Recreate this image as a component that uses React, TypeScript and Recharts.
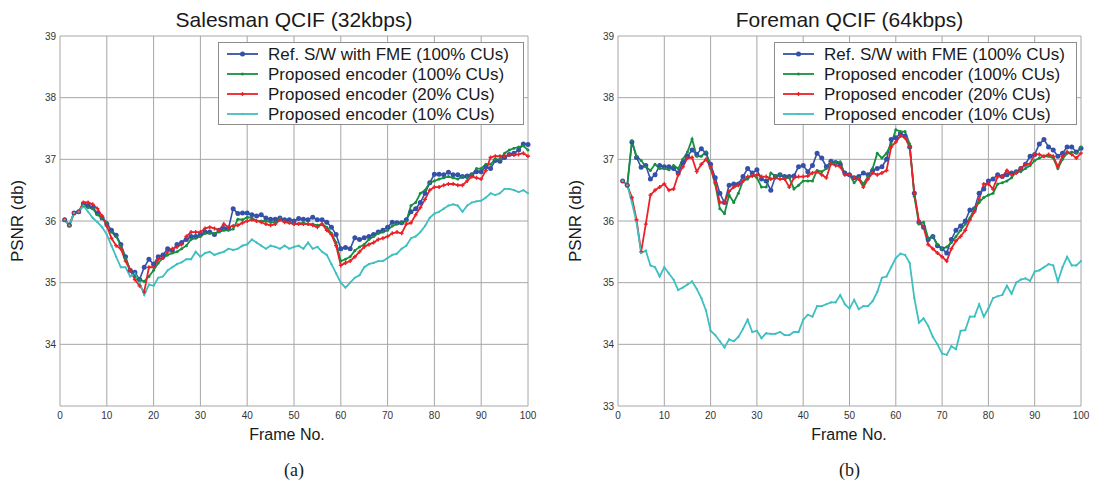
import React from 'react';
import { LineChart, Line, XAxis, YAxis, CartesianGrid } from 'recharts';

// frame numbers (x categories)
const frames = [
  1, 2, 3, 4, 5, 6, 7, 8, 9, 10, 11, 12, 13, 14, 15, 16, 17, 18, 19, 20,
  21, 22, 23, 24, 25, 26, 27, 28, 29, 30, 31, 32, 33, 34, 35, 36, 37, 38, 39, 40,
  41, 42, 43, 44, 45, 46, 47, 48, 49, 50, 51, 52, 53, 54, 55, 56, 57, 58, 59, 60,
  61, 62, 63, 64, 65, 66, 67, 68, 69, 70, 71, 72, 73, 74, 75, 76, 77, 78, 79, 80,
  81, 82, 83, 84, 85, 86, 87, 88, 89, 90, 91, 92, 93, 94, 95, 96, 97, 98, 99, 100,
];

const xTicks = [0, 10, 20, 30, 40, 50, 60, 70, 80, 90, 100];
const yTicks = [33, 34, 35, 36, 37, 38, 39];

const seriesNames = [
  'Ref. S/W with FME (100% CUs)',
  'Proposed encoder (100% CUs)',
  'Proposed encoder (20% CUs)',
  'Proposed encoder (10% CUs)',
];
const seriesColors = ['#3450a8', '#16903e', '#ea2128', '#3ebfc1'];

// Salesman QCIF (32kbps)
const salesmanRef = [
  36.02, 35.93, 36.13, 36.15, 36.28, 36.25, 36.22, 36.12, 36.05, 35.95,
  35.85, 35.77, 35.62, 35.42, 35.2, 35.17, 35.05, 35.25, 35.38, 35.3,
  35.42, 35.45, 35.55, 35.52, 35.62, 35.65, 35.7, 35.75, 35.75, 35.78,
  35.82, 35.82, 35.78, 35.85, 35.88, 35.88, 36.2, 36.12, 36.13, 36.13,
  36.1, 36.08, 36.1, 36.05, 36.03, 36.03, 36.05, 36.02, 36.02, 36.0,
  36.04, 36.03, 36.02, 36.06, 36.02, 36.02, 35.98, 35.9, 35.78, 35.55,
  35.57, 35.55, 35.73, 35.7, 35.73, 35.75, 35.78, 35.82, 35.85, 35.9,
  35.98, 35.97, 35.97, 36.02, 36.15, 36.2, 36.3, 36.45, 36.62, 36.76,
  36.76, 36.75, 36.79, 36.75, 36.75, 36.72, 36.73, 36.75, 36.8, 36.8,
  36.88, 36.85, 36.98, 36.97, 37.03, 37.08, 37.1, 37.15, 37.25, 37.24,
];
const salesmanP100 = [
  36.02, 35.93, 36.13, 36.15, 36.25, 36.22, 36.2, 36.1, 36.05, 35.98,
  35.82, 35.75, 35.6, 35.4, 35.2, 35.1, 35.05, 35.02, 35.1, 35.2,
  35.32, 35.4, 35.45, 35.48, 35.5, 35.55, 35.6, 35.7, 35.72, 35.75,
  35.8, 35.8, 35.8, 35.82, 35.85, 35.85, 35.87, 36.03, 36.02, 36.06,
  36.05, 36.0, 36.0, 36.0, 35.98, 35.98, 36.05, 36.0, 35.98, 35.95,
  35.96, 35.97, 35.95, 35.95, 35.93, 35.95, 35.9, 35.8, 35.65, 35.35,
  35.38, 35.42, 35.52, 35.58, 35.62, 35.7, 35.75, 35.8, 35.82, 35.85,
  35.92, 35.95, 35.97, 36.0, 36.25, 36.3, 36.45, 36.5, 36.62, 36.65,
  36.68, 36.7, 36.72, 36.7, 36.68, 36.72, 36.7, 36.75, 36.85, 36.85,
  36.92, 36.92, 37.0, 37.0, 37.1, 37.15, 37.18, 37.2, 37.22, 37.15,
];
const salesmanP20 = [
  36.02, 35.93, 36.13, 36.15, 36.3, 36.3, 36.27, 36.2, 36.08, 35.92,
  35.72, 35.6, 35.55, 35.35, 35.2, 35.05, 34.95, 34.85, 35.25, 35.25,
  35.38, 35.4, 35.5, 35.55, 35.58, 35.62, 35.75, 35.82, 35.82, 35.82,
  35.88, 35.9, 35.88, 35.85, 35.95, 35.9, 35.92, 35.93, 35.97, 36.0,
  36.02, 36.0, 35.98, 35.95, 35.93, 35.95, 36.02, 35.98, 35.97, 35.95,
  35.95, 35.95, 35.95, 35.93, 35.9, 35.95, 35.85, 35.78, 35.6, 35.28,
  35.32, 35.35, 35.42, 35.5, 35.58, 35.62, 35.65, 35.7, 35.72, 35.75,
  35.8, 35.82, 35.8, 35.95, 35.97, 36.1, 36.22, 36.35, 36.5, 36.55,
  36.55, 36.58, 36.6, 36.6, 36.58, 36.58, 36.65, 36.72, 36.7, 36.68,
  36.82, 37.03, 37.05, 37.05, 37.05, 37.07, 37.07, 37.08, 37.1, 37.05,
];
const salesmanP10 = [
  36.02, 35.93, 36.13, 36.15, 36.25, 36.15, 36.05, 35.98, 35.9, 35.78,
  35.6, 35.42, 35.25, 35.25, 35.1, 35.15, 35.0, 34.8, 34.97, 34.95,
  35.08, 35.1, 35.2, 35.25, 35.3, 35.33, 35.38, 35.38, 35.5, 35.42,
  35.48, 35.5, 35.45, 35.48, 35.5, 35.55, 35.53, 35.55, 35.6, 35.62,
  35.7, 35.65, 35.6, 35.55, 35.6, 35.58, 35.55, 35.6, 35.55, 35.58,
  35.6, 35.55, 35.65, 35.55, 35.58, 35.5, 35.45, 35.3, 35.15, 35.0,
  34.92, 35.0, 35.08, 35.12, 35.25, 35.3, 35.32, 35.35, 35.35, 35.4,
  35.45, 35.47, 35.55, 35.6, 35.72, 35.75, 35.82, 35.92, 36.05, 36.12,
  36.15, 36.2, 36.25, 36.27, 36.25, 36.15, 36.25, 36.3, 36.32, 36.33,
  36.38, 36.45, 36.42, 36.45, 36.52, 36.52, 36.5, 36.47, 36.5, 36.45,
];

// Foreman QCIF (64kbps)
const foremanRef = [
  36.65, 36.58, 37.28, 37.03, 36.87, 36.9, 36.68, 36.75, 36.9, 36.88,
  36.88, 36.85, 36.78, 36.95, 37.05, 37.15, 37.08, 37.17, 37.1, 36.92,
  36.7, 36.45, 36.3, 36.58, 36.6, 36.6, 36.72, 36.85, 36.78, 36.83,
  36.68, 36.65, 36.5, 36.72, 36.75, 36.72, 36.72, 36.73, 36.88, 36.9,
  36.8, 36.9, 37.1, 37.02, 36.88, 36.97, 36.95, 36.92, 36.78, 36.75,
  36.7, 36.72, 36.78, 36.75, 36.82, 36.85, 36.88, 37.0, 37.32, 37.35,
  37.42, 37.38, 37.2, 36.45, 35.98, 35.9, 35.7, 35.75, 35.6, 35.55,
  35.48, 35.7, 35.85, 35.92, 36.0, 36.18, 36.2, 36.45, 36.52, 36.65,
  36.68, 36.75, 36.72, 36.75, 36.78, 36.8, 36.85, 36.92, 37.05, 37.08,
  37.25, 37.32, 37.2, 37.15, 37.05, 37.1, 37.2, 37.2, 37.12, 37.18,
];
const foremanP100 = [
  36.65, 36.58, 37.3, 37.05, 36.98, 36.88, 36.82, 36.92, 36.85, 36.85,
  36.83, 36.9, 36.85, 37.0, 37.12, 37.33, 37.05, 37.05, 37.12, 36.85,
  36.6, 36.2, 36.12, 36.42, 36.3, 36.45, 36.65, 36.68, 36.75, 36.7,
  36.55, 36.55, 36.78, 36.73, 36.75, 36.7, 36.7, 36.52, 36.58, 36.65,
  36.65, 36.65, 36.82, 36.8, 36.85, 36.95, 36.95, 36.96, 36.75, 36.75,
  36.62, 36.7, 36.6, 36.72, 36.85, 37.1, 37.02, 37.1, 37.25, 37.48,
  37.45, 37.45, 37.25, 36.4, 35.95, 35.98, 35.72, 35.75, 35.62, 35.55,
  35.58, 35.65, 35.75, 35.85, 35.95, 36.05, 36.2, 36.3, 36.38, 36.42,
  36.45, 36.6, 36.62, 36.65, 36.7, 36.8, 36.8, 36.85, 36.9, 36.98,
  37.02, 37.05, 37.05, 37.02, 36.85, 37.0, 37.1, 37.12, 37.1, 37.2,
];
const foremanP20 = [
  36.65, 36.58, 36.38, 36.02, 35.5, 35.95, 36.42, 36.5, 36.55, 36.6,
  36.5, 36.52, 36.75, 36.88, 37.02, 37.03, 36.8, 36.92, 37.0, 36.88,
  36.62, 36.3, 36.3, 36.48, 36.55, 36.58, 36.65, 36.72, 36.73, 36.75,
  36.72, 36.72, 36.68, 36.7, 36.68, 36.68, 36.55, 36.7, 36.72, 36.72,
  36.73, 36.78, 36.8, 36.75, 36.7, 36.93, 36.9, 36.88, 36.75, 36.75,
  36.7, 36.68, 36.55, 36.68, 36.78, 36.75, 36.78, 36.82, 37.2, 37.28,
  37.38, 37.35, 37.2, 36.45, 36.0, 35.9, 35.62, 35.55, 35.48, 35.42,
  35.35, 35.55, 35.68, 35.75, 35.85, 36.02, 36.15, 36.35, 36.6, 36.6,
  36.52, 36.72, 36.72, 36.82, 36.75, 36.78, 36.85, 36.92, 36.93, 37.08,
  37.08, 37.05, 37.08, 37.05, 36.88, 37.05, 37.12, 37.08, 37.02, 37.1,
];
const foremanP10 = [
  36.65, 36.58, 36.3, 35.98, 35.48, 35.52, 35.28, 35.25, 35.1, 35.25,
  35.15, 35.05, 34.88, 34.92, 34.97, 35.02, 34.9, 34.75, 34.55, 34.22,
  34.15, 34.05, 33.95, 34.08, 34.05, 34.12, 34.25, 34.4, 34.2, 34.22,
  34.1, 34.18, 34.17, 34.17, 34.2, 34.15, 34.15, 34.2, 34.2, 34.4,
  34.48, 34.45, 34.62, 34.62, 34.65, 34.68, 34.68, 34.8, 34.65, 34.58,
  34.72, 34.57, 34.62, 34.62, 34.7, 34.85, 35.08, 35.1, 35.25, 35.4,
  35.47, 35.45, 35.32, 34.75, 34.35, 34.42, 34.3, 34.12, 34.0, 33.85,
  33.83, 33.97, 33.92, 34.22, 34.23, 34.45, 34.45, 34.65, 34.45, 34.58,
  34.75, 34.78, 34.8, 34.95, 34.82, 35.0, 35.05, 35.07, 35.03, 35.18,
  35.2, 35.25, 35.3, 35.28, 35.02, 35.25, 35.42, 35.28, 35.28, 35.35,
];

const buildRows = (a: number[], b: number[], c: number[], d: number[]) =>
  frames.map((f, i) => ({ frame: f, s0: a[i], s1: b[i], s2: c[i], s3: d[i] }));

const salesmanRows = buildRows(salesmanRef, salesmanP100, salesmanP20, salesmanP10);
const foremanRows = buildRows(foremanRef, foremanP100, foremanP20, foremanP10);

const SANS = '"Liberation Sans", Arial, Helvetica, sans-serif';
const SERIF = '"Liberation Serif", "Times New Roman", serif';

const PlusDot = (props: any) => {
  const { cx, cy, index } = props;
  if (cx == null || cy == null) return <g key={`p-${index}`} />;
  return (
    <path
      key={`p-${index}`}
      d={`M${cx - 2},${cy}H${cx + 2}M${cx},${cy - 2}V${cy + 2}`}
      stroke={seriesColors[2]}
      strokeWidth={1.4}
    />
  );
};

const dotFor = (i: number): any => {
  if (i === 0) return { r: 2.5, fill: seriesColors[0], stroke: 'none' };
  if (i === 1) return { r: 1.5, fill: seriesColors[1], stroke: 'none' };
  if (i === 2) return PlusDot;
  return { r: 1.1, fill: seriesColors[3], stroke: 'none' };
};

const LegendMarker = ({ i }: { i: number }) => {
  const c = seriesColors[i];
  return (
    <svg width={31} height={8} style={{ display: 'block' }}>
      <line x1={0} y1={4} x2={31} y2={4} stroke={c} strokeWidth={1.8} />
      {i === 0 && <circle cx={15.5} cy={4} r={2.5} fill={c} />}
      {i === 1 && <circle cx={15.5} cy={4} r={1.5} fill={c} />}
      {i === 2 && <path d="M13.5,4H17.5M15.5,2V6" stroke={c} strokeWidth={1.4} />}
      {i === 3 && <circle cx={15.5} cy={4} r={1.1} fill={c} />}
    </svg>
  );
};

interface PanelProps {
  left: number;
  width: number;
  rightMargin: number;
  title: string;
  caption: string;
  rows: any[];
  hideBottomTick: boolean;
  legendLeft: number;
  legendWidth: number;
  xLabelCenter: number;
}

const Panel: React.FC<PanelProps> = ({
  left, width, rightMargin, title, caption, rows, hideBottomTick, legendLeft, legendWidth, xLabelCenter,
}) => {
  const plotLeft = 60;
  const plotRight = width - rightMargin;
  const plotCenter = (plotLeft + plotRight) / 2;
  return (
    <div style={{ position: 'absolute', left, top: 0, width, height: 482 }}>
      <LineChart
        width={width}
        height={482}
        data={rows}
        margin={{ top: 36, right: rightMargin, bottom: 46, left: 0 }}
      >
        <CartesianGrid stroke="#a6a6a6" strokeWidth={1} />
        <XAxis
          dataKey="frame"
          type="number"
          domain={[0, 100]}
          ticks={xTicks}
          interval={0}
          height={30}
          axisLine={false}
          tickLine={false}
          tickSize={0}
          tickMargin={6}
          tick={{ fontSize: 10, fill: '#333', fontFamily: SANS }}
        />
        <YAxis
          type="number"
          domain={[33, 39]}
          ticks={yTicks}
          interval={0}
          width={60}
          axisLine={false}
          tickLine={false}
          tickSize={0}
          tickMargin={4}
          allowDataOverflow
          tick={{ fontSize: 10, fill: '#333', fontFamily: SANS }}
          tickFormatter={(v: number) => (hideBottomTick && v === 33 ? '' : String(v))}
        />
        {['s0', 's1', 's2', 's3'].map((k, i) => (
          <Line
            key={k}
            dataKey={k}
            type="linear"
            stroke={seriesColors[i]}
            strokeWidth={i === 0 ? 1.6 : 1.8}
            dot={dotFor(i)}
            activeDot={false}
            isAnimationActive={false}
          />
        ))}
      </LineChart>

      {/* title */}
      <div
        style={{
          position: 'absolute', left: plotCenter, top: 9, transform: 'translateX(-50%)',
          fontFamily: SANS, fontSize: 21, lineHeight: 1, whiteSpace: 'nowrap', color: '#1a1a1a',
        }}
      >
        {title}
      </div>

      {/* y label */}
      <div
        style={{
          position: 'absolute', left: 17, top: 221, transform: 'translate(-50%, -50%) rotate(-90deg)',
          fontFamily: SANS, fontSize: 17, lineHeight: 1, whiteSpace: 'nowrap', color: '#1a1a1a',
        }}
      >
        PSNR (db)
      </div>

      {/* x label */}
      <div
        style={{
          position: 'absolute', left: xLabelCenter, top: 427, transform: 'translateX(-50%)',
          fontFamily: SANS, fontSize: 16, lineHeight: 1, whiteSpace: 'nowrap', color: '#1a1a1a',
        }}
      >
        Frame No.
      </div>

      {/* caption */}
      <div
        style={{
          position: 'absolute', left: plotCenter, top: 461, transform: 'translateX(-50%)',
          fontFamily: SERIF, fontSize: 18, lineHeight: 1, whiteSpace: 'nowrap', color: '#1a1a1a',
        }}
      >
        {caption}
      </div>

      {/* legend */}
      <div
        style={{
          position: 'absolute', left: legendLeft, top: 42, width: legendWidth, height: 83,
          boxSizing: 'border-box', border: '1px solid #8c8c8c', background: '#fff',
        }}
      >
        {seriesNames.map((name, i) => (
          <div
            key={name}
            style={{
              position: 'absolute', left: 8, top: 1 + i * 20, height: 20,
              display: 'flex', alignItems: 'center', whiteSpace: 'nowrap',
            }}
          >
            <LegendMarker i={i} />
            <span style={{ marginLeft: 10, fontFamily: SANS, fontSize: 17, lineHeight: 1, color: '#1a1a1a' }}>
              {name}
            </span>
          </div>
        ))}
      </div>
    </div>
  );
};

export default function App() {
  return (
    <div style={{ position: 'absolute', left: 0, top: 0, width: 1095, height: 482, background: '#fff' }}>
      <Panel
        left={0}
        width={550}
        rightMargin={22}
        title="Salesman QCIF (32kbps)"
        caption="(a)"
        rows={salesmanRows}
        hideBottomTick
        legendLeft={218}
        legendWidth={306}
        xLabelCenter={287}
      />
      <Panel
        left={558}
        width={537}
        rightMargin={14}
        title="Foreman QCIF (64kbps)"
        caption="(b)"
        rows={foremanRows}
        hideBottomTick={false}
        legendLeft={216}
        legendWidth={303}
        xLabelCenter={291}
      />
    </div>
  );
}
